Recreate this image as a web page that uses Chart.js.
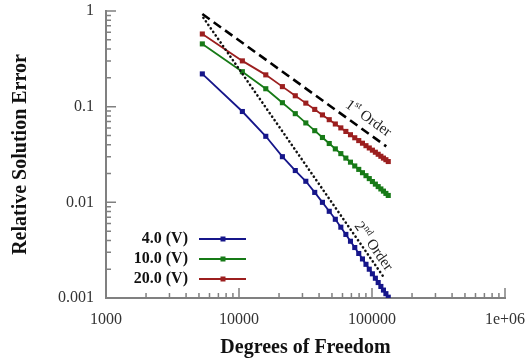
<!DOCTYPE html>
<html>
<head>
<meta charset="utf-8">
<script src="https://cdn.jsdelivr.net/npm/chart.js@4.4.1/dist/chart.umd.min.js"></script>
<style>
  html, body { margin: 0; padding: 0; background: #fff; }
</style>
</head>
<body>
<canvas id="errCanvas" width="529" height="361"></canvas>
<script>
// degrees of freedom for each refinement level
let dofs = [5300, 10600, 15900, 21200, 26500, 31800, 37100, 42400, 47700, 53000,
  58300, 63600, 68900, 74200, 79500, 84800, 90100, 95400, 100700, 106000,
  111300, 116600, 121900, 127200, 132500]

let seriesNames = ['4.0 (V)', '10.0 (V)', '20.0 (V)']
let err4 = [0.22, 0.089, 0.049, 0.030, 0.0215, 0.0166, 0.0127, 0.0100, 0.00806, 0.00665,
  0.0055, 0.00462, 0.00392, 0.00337, 0.00292, 0.00256, 0.00225, 0.0020, 0.00179, 0.00161,
  0.00145, 0.00132, 0.00121, 0.00111, 0.00102]
let err10 = [0.453, 0.232, 0.154, 0.110, 0.0845, 0.0676, 0.0561, 0.0476, 0.0412, 0.0362,
  0.0323, 0.0290, 0.0263, 0.0240, 0.0221, 0.0204, 0.0190, 0.0177, 0.0165, 0.0155,
  0.0146, 0.0138, 0.0131, 0.0124, 0.0118]
let err20 = [0.575, 0.301, 0.215, 0.162, 0.130, 0.1089, 0.0936, 0.0820, 0.0731, 0.0659,
  0.0600, 0.0551, 0.0509, 0.0473, 0.0442, 0.0415, 0.0391, 0.0370, 0.0351, 0.0334,
  0.0318, 0.0303, 0.0290, 0.0279, 0.0267]

// reference slopes (end points)
let firstOrderX = [5300, 128000]
let firstOrderY = [0.93, 0.0385]
let secondOrderX = [5400, 122000]
let secondOrderY = [0.85, 0.001665]

let xTicks = [1000, 10000, 100000, 1000000]
let xTickLabels = ['1000', '10000', '100000', '1e+06']
let yTicks = [0.001, 0.01, 0.1, 1]
let yTickLabels = ['0.001', '0.01', '0.1', '1']

const serif = "'Liberation Serif', 'DejaVu Serif', serif"
const colors = ['#16168a', '#177a17', '#9c1f1f']

const toXY = (xs, ys) => xs.map((v, i) => ({ x: v, y: ys[i] }))

function seriesDs(i, ys) {
  return {
    label: seriesNames[i],
    data: toXY(dofs, ys),
    borderColor: colors[i],
    backgroundColor: colors[i],
    borderWidth: 1.8,
    pointStyle: 'rect',
    pointRadius: 3.6,
    pointBorderWidth: 0
  }
}

// draws text with a superscript part
function richText(ctx, parts, size) {
  let w = 0
  parts.forEach(p => {
    ctx.font = (p.sup ? size * 0.65 : size) + 'px ' + serif
    p.w = ctx.measureText(p.t).width
    w += p.w
  })
  let x = -w / 2
  parts.forEach(p => {
    ctx.font = (p.sup ? size * 0.65 : size) + 'px ' + serif
    ctx.fillText(p.t, x, p.sup ? -size * 0.33 : 0)
    x += p.w
  })
}

function lineLabel(chart, xs, ys, atX, off, parts) {
  const { ctx, scales: { x, y } } = chart
  const x0 = x.getPixelForValue(xs[0]), y0 = y.getPixelForValue(ys[0])
  const x1 = x.getPixelForValue(xs[1]), y1 = y.getPixelForValue(ys[1])
  const ang = Math.atan2(y1 - y0, x1 - x0)
  const px = x.getPixelForValue(atX)
  const py = y0 + (px - x0) * (y1 - y0) / (x1 - x0)
  ctx.save()
  ctx.translate(px, py)
  ctx.rotate(ang)
  ctx.translate(0, -off)
  ctx.fillStyle = '#222'
  ctx.textAlign = 'left'
  ctx.textBaseline = 'middle'
  richText(ctx, parts, 15)
  ctx.restore()
}

const decor = {
  id: 'decor',
  afterDraw(chart) {
    const { ctx, chartArea: a, scales: { x, y } } = chart
    ctx.save()
    ctx.strokeStyle = '#808080'
    ctx.lineWidth = 1.5
    ctx.beginPath()
    xTicks.forEach((d, i) => {
      let px = x.getPixelForValue(d)
      ctx.moveTo(px, a.bottom); ctx.lineTo(px, a.bottom - 10)
      if (i < xTicks.length - 1) {
        for (let m = 2; m < 10; m++) {
          px = x.getPixelForValue(d * m)
          ctx.moveTo(px, a.bottom); ctx.lineTo(px, a.bottom - 5)
        }
      }
    })
    yTicks.forEach((d, i) => {
      let py = y.getPixelForValue(d)
      ctx.moveTo(a.left, py); ctx.lineTo(a.left + 10, py)
      if (i < yTicks.length - 1) {
        for (let m = 2; m < 10; m++) {
          py = y.getPixelForValue(d * m)
          ctx.moveTo(a.left, py); ctx.lineTo(a.left + 5, py)
        }
      }
    })
    ctx.stroke()

    // legend
    const rows = [239, 259, 279]
    seriesNames.forEach((name, i) => {
      ctx.fillStyle = '#111'
      ctx.font = 'bold 16px ' + serif
      ctx.textAlign = 'right'
      ctx.textBaseline = 'middle'
      ctx.fillText(name, 188, rows[i])
      ctx.strokeStyle = colors[i]
      ctx.lineWidth = 2
      ctx.beginPath(); ctx.moveTo(199, rows[i]); ctx.lineTo(246, rows[i]); ctx.stroke()
      ctx.fillStyle = colors[i]
      ctx.fillRect(220.5, rows[i] - 2.5, 5, 5)
    })
    ctx.restore()

    lineLabel(chart, firstOrderX, firstOrderY, 83000, 12,
      [{ t: '1' }, { t: 'st', sup: true }, { t: ' Order' }])
    lineLabel(chart, secondOrderX, secondOrderY, 90000, 9,
      [{ t: '2' }, { t: 'nd', sup: true }, { t: ' Order' }])
  }
}

const errCanvas = document.getElementById('errCanvas')

new Chart(errCanvas, {
  type: 'line',
  data: {
    datasets: [
      {
        label: '1st Order',
        data: toXY(firstOrderX, firstOrderY),
        borderColor: '#000',
        borderWidth: 2.6,
        borderDash: [9, 5],
        pointRadius: 0
      },
      {
        label: '2nd Order',
        data: toXY(secondOrderX, secondOrderY),
        borderColor: '#111',
        borderWidth: 2.6,
        borderDash: [0.1, 4.2],
        borderCapStyle: 'round',
        pointRadius: 0
      },
      seriesDs(0, err4),
      seriesDs(1, err10),
      seriesDs(2, err20)
    ]
  },
  options: {
    responsive: false,
    animation: false,
    layout: { padding: { top: 11, right: 24, left: 0, bottom: 0 } },
    plugins: { legend: { display: false }, tooltip: { enabled: false } },
    scales: {
      x: {
        type: 'logarithmic',
        min: 1000,
        max: 1000000,
        afterBuildTicks: s => { s.ticks = xTicks.map(v => ({ value: v })) },
        afterFit: s => { s.height = 63; s.paddingLeft = 0; s.paddingRight = 0 },
        ticks: {
          callback: (v, i) => xTickLabels[i],
          font: { family: serif, size: 16 },
          color: '#333',
          padding: 12,
          maxRotation: 0,
          autoSkip: false
        },
        grid: { display: false, drawTicks: false },
        border: { display: true, color: '#808080', width: 2 },
        title: {
          display: true,
          text: 'Degrees of Freedom',
          font: { family: serif, size: 20, weight: 'bold' },
          color: '#111',
          padding: { top: 0, bottom: 1 }
        }
      },
      y: {
        type: 'logarithmic',
        min: 0.001,
        max: 1,
        afterBuildTicks: s => { s.ticks = yTicks.map(v => ({ value: v })) },
        afterFit: s => { s.width = 106; s.paddingTop = 0; s.paddingBottom = 0 },
        ticks: {
          callback: (v, i) => yTickLabels[i],
          font: { family: serif, size: 16 },
          color: '#333',
          padding: 12,
          autoSkip: false
        },
        grid: { display: false, drawTicks: false },
        border: { display: true, color: '#808080', width: 2 },
        title: {
          display: true,
          text: 'Relative Solution Error',
          font: { family: serif, size: 20, weight: 'bold' },
          color: '#111',
          padding: { top: 9, bottom: 0 }
        }
      }
    }
  },
  plugins: [decor]
})
</script>
</body>
</html>
